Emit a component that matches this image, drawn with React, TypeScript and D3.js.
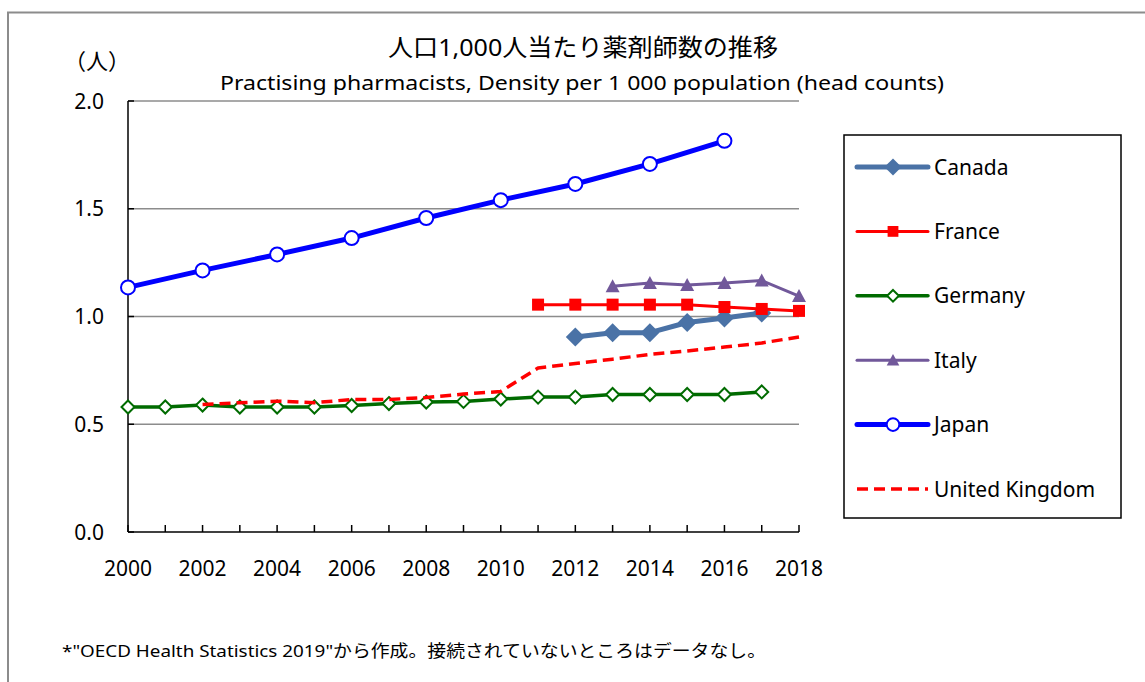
import React from "react";
import * as d3 from "d3";

const years = d3.range(2000, 2019);
const yTicks = [0, 0.5, 1.0, 1.5, 2.0];
const xLabelYears = [2000, 2002, 2004, 2006, 2008, 2010, 2012, 2014, 2016, 2018];

const canada: [number, number][] = [[2012, 0.905], [2013, 0.925], [2014, 0.925], [2015, 0.972], [2016, 0.993], [2017, 1.016]];
const france: [number, number][] = [[2011, 1.055], [2012, 1.055], [2013, 1.055], [2014, 1.055], [2015, 1.055], [2016, 1.044], [2017, 1.035], [2018, 1.026]];
const germany: [number, number][] = [[2000, 0.58], [2001, 0.58], [2002, 0.589], [2003, 0.58], [2004, 0.58], [2005, 0.58], [2006, 0.587], [2007, 0.596], [2008, 0.603], [2009, 0.606], [2010, 0.617], [2011, 0.626], [2012, 0.626], [2013, 0.638], [2014, 0.638], [2015, 0.638], [2016, 0.638], [2017, 0.65]];
const italy: [number, number][] = [[2013, 1.14], [2014, 1.155], [2015, 1.146], [2016, 1.155], [2017, 1.167], [2018, 1.095]];
const japan: [number, number][] = [[2000, 1.135], [2002, 1.214], [2004, 1.288], [2006, 1.364], [2008, 1.457], [2010, 1.54], [2012, 1.615], [2014, 1.708], [2016, 1.815]];
const uk: [number, number][] = [[2002, 0.592], [2003, 0.6], [2004, 0.607], [2005, 0.6], [2006, 0.615], [2007, 0.615], [2008, 0.624], [2009, 0.64], [2010, 0.652], [2011, 0.761], [2012, 0.782], [2013, 0.802], [2014, 0.824], [2015, 0.84], [2016, 0.858], [2017, 0.877], [2018, 0.905]];

const seriesNames = ["Canada", "France", "Germany", "Italy", "Japan", "United Kingdom"];

type Marker = "diamond" | "square" | "openDiamond" | "triangle" | "circle" | "none";
interface Series { name: string; data: [number, number][]; color: string; width: number; marker: Marker; dash?: string; }

const series: Series[] = [
  { name: seriesNames[4], data: japan, color: "#0000FF", width: 5, marker: "circle" },
  { name: seriesNames[2], data: germany, color: "#006B00", width: 3.5, marker: "openDiamond" },
  { name: seriesNames[5], data: uk, color: "#FF0000", width: 3.5, marker: "none", dash: "11,6" },
  { name: seriesNames[0], data: canada, color: "#4A72A6", width: 5, marker: "diamond" },
  { name: seriesNames[1], data: france, color: "#FF0000", width: 3, marker: "square" },
  { name: seriesNames[3], data: italy, color: "#71589A", width: 3, marker: "triangle" },
];
const legendOrder = [3, 4, 1, 5, 0, 2];

const font = "'Noto Sans', 'Noto Sans CJK JP', sans-serif";

function MarkerShape({ type, x, y, color, small }: { type: Marker; x: number; y: number; color: string; small?: boolean }) {
  const k = small ? 0.9 : 1;
  switch (type) {
    case "circle":
      return <circle cx={x} cy={y} r={7 * k} fill="#fff" stroke={color} strokeWidth={2} />;
    case "diamond": {
      const s = 9.5 * k;
      return <path d={`M${x},${y - s}L${x + s},${y}L${x},${y + s}L${x - s},${y}Z`} fill={color} />;
    }
    case "openDiamond": {
      const s = 6.5 * k;
      return <path d={`M${x},${y - s}L${x + s},${y}L${x},${y + s}L${x - s},${y}Z`} fill="#fff" stroke={color} strokeWidth={2} />;
    }
    case "square": {
      const s = 6 * k;
      return <rect x={x - s} y={y - s} width={2 * s} height={2 * s} fill={color} />;
    }
    case "triangle": {
      const s = 7 * k;
      return <path d={`M${x},${y - s}L${x + s},${y + s * 0.85}L${x - s},${y + s * 0.85}Z`} fill={color} />;
    }
    default:
      return null;
  }
}

export default function App() {
  const x = d3.scaleLinear().domain([2000, 2018]).range([128, 799]);
  const y = d3.scaleLinear().domain([0, 2]).range([532, 101]);
  const line = d3.line<[number, number]>().x((d) => x(d[0])).y((d) => y(d[1]));

  const legendX = 857;
  const legendY0 = 167;
  const legendStep = 64.4;

  return (
    <svg width={1145} height={682} style={{ position: "absolute", left: 0, top: 0, background: "#fff" }} fontFamily={font}>
      <rect x={0} y={0} width={1145} height={682} fill="#fff" />
      {/* outer frame */}
      <path d="M8,682V12.5H1145" fill="none" stroke="#8c8c8c" strokeWidth={2} />

      {/* titles */}
      <text x={583} y={56} textAnchor="middle" fontSize={24} fill="#000" textLength={390} lengthAdjust="spacingAndGlyphs">人口1,000人当たり薬剤師数の推移</text>
      <text x={582} y={90} textAnchor="middle" fontSize={20} fill="#000" textLength={724} lengthAdjust="spacingAndGlyphs">Practising pharmacists, Density per 1 000 population (head counts)</text>
      <text x={64} y={69} fontSize={22} fill="#000">（人）</text>

      {/* gridlines */}
      {yTicks.filter((t) => t > 0).map((t) => (
        <line key={t} x1={x(2000)} x2={x(2018)} y1={y(t)} y2={y(t)} stroke="#8c8c8c" strokeWidth={1.5} />
      ))}
      {/* axes */}
      <line x1={x(2000)} x2={x(2000)} y1={y(2)} y2={y(0)} stroke="#000" strokeWidth={1.5} />
      <line x1={x(2000)} x2={x(2018)} y1={y(0)} y2={y(0)} stroke="#000" strokeWidth={1.5} />
      {yTicks.map((t) => (
        <g key={t}>
          <line x1={x(2000)} x2={x(2000) + 6} y1={y(t)} y2={y(t)} stroke="#000" strokeWidth={1.5} />
          <text x={104} y={y(t) + 7.5} textAnchor="end" fontSize={21} fill="#000">{d3.format(".1f")(t)}</text>
        </g>
      ))}
      {years.map((yr) => (
        <line key={yr} x1={x(yr)} x2={x(yr)} y1={y(0)} y2={y(0) - 7} stroke="#000" strokeWidth={1.5} />
      ))}
      {xLabelYears.map((yr) => (
        <text key={yr} x={x(yr)} y={576} textAnchor="middle" fontSize={21} fill="#000">{yr}</text>
      ))}

      {/* series */}
      {series.map((s) => (
        <g key={s.name}>
          <path d={line(s.data) ?? ""} fill="none" stroke={s.color} strokeWidth={s.width} strokeDasharray={s.dash} strokeLinejoin="round" />
          {s.data.map((d, i) => (
            <MarkerShape key={i} type={s.marker} x={x(d[0])} y={y(d[1])} color={s.color} />
          ))}
        </g>
      ))}

      {/* legend */}
      <rect x={844} y={135} width={277} height={383} fill="#fff" stroke="#000" strokeWidth={1.5} />
      {legendOrder.map((si, i) => {
        const s = series[si];
        const ly = legendY0 + i * legendStep;
        return (
          <g key={s.name}>
            <line x1={legendX} x2={legendX + 71} y1={ly} y2={ly} stroke={s.color} strokeWidth={s.width} strokeDasharray={s.dash} strokeLinecap={s.dash ? "butt" : "round"} />
            <MarkerShape type={s.marker} x={legendX + 36} y={ly} color={s.color} small />
            <text x={934} y={ly + 7.5} fontSize={21} fill="#000">{s.name}</text>
          </g>
        );
      })}

      {/* footnote */}
      <text x={62} y={657} fontSize={17} fill="#000" textLength={704} lengthAdjust="spacingAndGlyphs">*"OECD Health Statistics 2019"から作成。接続されていないところはデータなし。</text>
    </svg>
  );
}
